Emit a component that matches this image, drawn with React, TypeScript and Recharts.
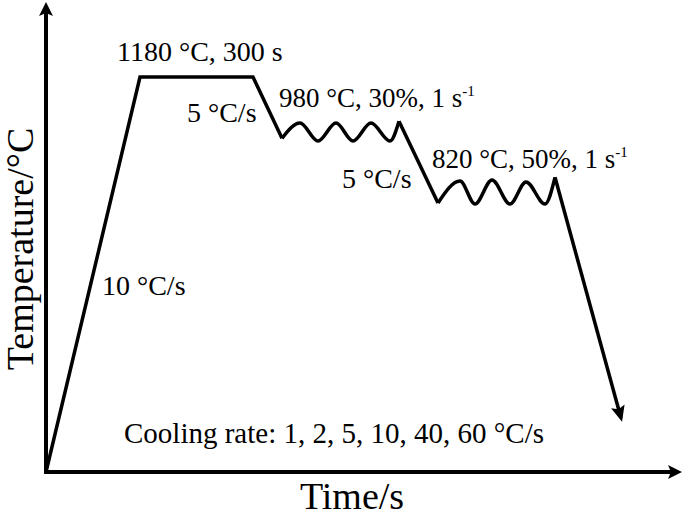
import { LineChart, Line, XAxis, YAxis, ReferenceLine, ReferenceDot } from "recharts"

// schematic time (s) and temperature (°C)
const heatTime = [0, 94, 207, 236]
const heatTemp = [0, 1185, 1185, 1001]

const pass1Time = [236, 254, 272, 290, 307, 325, 344, 353]
const pass1Temp = [1001, 1047, 993, 1047, 993, 1047, 993, 1052]

const coolTime = [353, 392]
const coolTemp = [1052, 807]

const pass2Time = [392, 414, 429, 446, 464, 480, 499, 509]
const pass2Temp = [807, 873, 804, 876, 804, 870, 804, 884]

const quenchTime = [509, 575]
const quenchTemp = [884, 162]

const T_MAX = 636
const TEMP_MAX = 1410

const zip = (ts: number[], vs: number[]) => ts.map((t, i) => ({ t, temp: vs[i] }))

const notes = [
  { text: "1180 °C, 300 s", t: 71, temp: 1233, size: 28 },
  { text: "5 °C/s", t: 141, temp: 1050, size: 28 },
  { text: "980 °C, 30%, 1 s", sup: "-1", t: 233, temp: 1095, size: 27 },
  { text: "5 °C/s", t: 296, temp: 852, size: 28 },
  { text: "820 °C, 50%, 1 s", sup: "-1", t: 386, temp: 912, size: 27 },
  { text: "10 °C/s", t: 56, temp: 531, size: 28 },
  { text: "Cooling rate: 1, 2, 5, 10, 40, 60 °C/s", t: 78, temp: 87, size: 29 },
]

const FONT = "'Liberation Serif', 'Times New Roman', serif"

function head(x1: number, y1: number, x2: number, y2: number, len = 14, half = 7) {
  const dx = x2 - x1
  const dy = y2 - y1
  const d = Math.hypot(dx, dy) || 1
  const ux = dx / d
  const uy = dy / d
  const bx = x2 - ux * len
  const by = y2 - uy * len
  const nx = -uy
  const ny = ux
  const notch = 3
  return {
    baseX: bx + ux * notch,
    baseY: by + uy * notch,
    points: `${x2},${y2} ${bx + nx * half},${by + ny * half} ${bx + ux * notch},${by + uy * notch} ${bx - nx * half},${by - ny * half}`,
  }
}

const AxisArrow = (props: any) => {
  const x1 = Number(props.x1)
  const y1 = Number(props.y1)
  const x2 = Number(props.x2)
  const y2 = Number(props.y2)
  const h = head(x1, y1, x2, y2, 14, 7)
  return (
    <g>
      <line x1={x1} y1={y1} x2={h.baseX} y2={h.baseY} stroke="#000" strokeWidth={4} strokeLinecap="square" />
      <polygon points={h.points} fill="#000" />
    </g>
  )
}

const EndArrow = (props: any) => {
  const { cx, cy, index, points } = props
  const last = points ? points.length - 1 : quenchTime.length - 1
  if (index !== last || cx == null) return <g key={`d-${index}`} />
  let px = cx - 0.27 * 100
  let py = cy - 0.963 * 100
  if (points && points[last - 1]) {
    px = points[last - 1].x
    py = points[last - 1].y
  }
  const d = Math.hypot(cx - px, cy - py) || 1
  const tx = cx + ((cx - px) / d) * 4
  const ty = cy + ((cy - py) / d) * 4
  const h = head(px, py, tx, ty, 16, 7)
  return <polygon key={`d-${index}`} points={h.points} fill="#000" />
}

const NoteText = (note: any) => (props: any) => (
  <text x={props.cx} y={props.cy} fontFamily={FONT} fontSize={note.size} fill="#000">
    <tspan>{note.text}</tspan>
    {note.sup && (
      <tspan fontSize={15} dy={-11}>
        {note.sup}
      </tspan>
    )}
  </text>
)

const XTitle = (props: any) => (
  <text x={props.cx} y={props.cy} textAnchor="middle" fontFamily={FONT} fontSize={38} fill="#000">
    Time/s
  </text>
)

const YTitle = (props: any) => (
  <text
    x={props.cx}
    y={props.cy}
    textAnchor="middle"
    transform={`rotate(-90 ${props.cx} ${props.cy})`}
    fontFamily={FONT}
    fontSize={38}
    fill="#000"
  >
    Temperature/°C
  </text>
)

export default function App() {
  const line = { stroke: "#000", strokeWidth: 3.5, dot: false, activeDot: false, isAnimationActive: false }
  return (
    <div style={{ position: "absolute", left: 0, top: 0, background: "#fff" }}>
      <LineChart width={685} height={518} margin={{ top: 2, right: 3, bottom: 46, left: 46 }}>
        <XAxis type="number" dataKey="t" domain={[0, T_MAX]} hide />
        <YAxis type="number" dataKey="temp" domain={[0, TEMP_MAX]} hide />
        <ReferenceLine segment={[{ x: 0, y: 0 }, { x: T_MAX, y: 0 }]} shape={AxisArrow} ifOverflow="visible" />
        <ReferenceLine segment={[{ x: 0, y: 0 }, { x: 0, y: TEMP_MAX }]} shape={AxisArrow} ifOverflow="visible" />
        <Line data={zip(heatTime, heatTemp)} dataKey="temp" type="linear" {...line} />
        <Line data={zip(pass1Time, pass1Temp)} dataKey="temp" type="monotone" {...line} />
        <Line data={zip(coolTime, coolTemp)} dataKey="temp" type="linear" {...line} />
        <Line data={zip(pass2Time, pass2Temp)} dataKey="temp" type="monotone" {...line} />
        <Line data={zip(quenchTime, quenchTemp)} dataKey="temp" type="linear" {...line} dot={EndArrow} />
        {notes.map((n, i) => (
          <ReferenceDot key={i} x={n.t} y={n.temp} r={0} ifOverflow="visible" shape={NoteText(n)} />
        ))}
        <ReferenceDot x={306} y={-111} r={0} ifOverflow="visible" shape={XTitle} />
        <ReferenceDot x={-13} y={669} r={0} ifOverflow="visible" shape={YTitle} />
      </LineChart>
    </div>
  )
}
